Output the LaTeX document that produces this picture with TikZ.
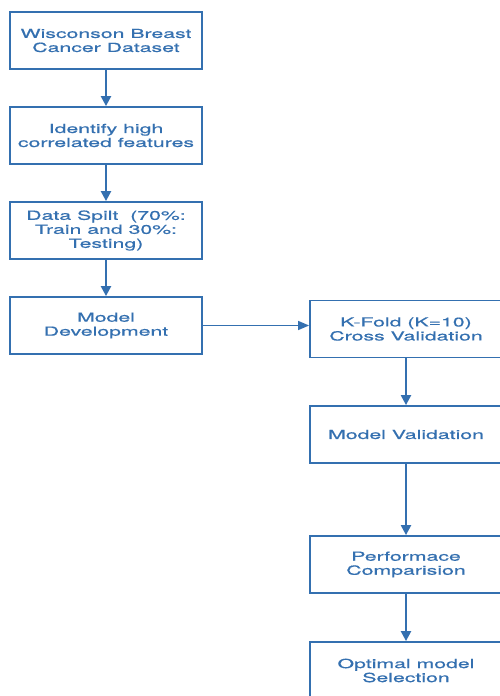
\documentclass[tikz,border=0pt]{standalone}
\usepackage{fontspec}
\setmainfont[FakeStretch=1.7,FakeBold=0.6]{TeX Gyre Heros}
\usetikzlibrary{arrows.meta}
\definecolor{fblue}{RGB}{52,112,176}
\tikzset{
  box/.style={draw=fblue, line width=1.8pt, minimum width=192pt, minimum height=57pt,
    align=center, text=fblue, font=\fontsize{12.5}{14}\selectfont, inner sep=0pt},
  flow/.style={draw=fblue, line width=2.2pt, -{Triangle[width=10pt,length=10pt]}},
  flowthin/.style={draw=fblue, line width=1.3pt, -{Triangle[width=9pt,length=11pt]}}
}
\begin{document}
\begin{tikzpicture}[x=1pt,y=-1pt]
\useasboundingbox[fill=white] (0,0) rectangle (499,696);
\node[box] (b1) at (106,40.5) {Wisconson Breast\\Cancer Dataset};
\node[box] (b2) at (106,135.5) {Identify high\\correlated features};
\node[box] (b3) at (106,230.5) {Data Spilt\ \ (70\%:\\Train and 30\%:\\Testing)};
\node[box] (b4) at (106,325.5) {Model\\Development};
\node[box] (b5) at (406,329) {K-Fold (K=10)\\Cross Validation};
\node[box] (b6) at (406,434.5) {Model Validation};
\node[box] (b7) at (406,564.5) {Performace\\Comparision};
\node[box] (b8) at (406,670.5) {Optimal model\\Selection};
\draw[flow] (b1) -- (b2);
\draw[flow] (b2) -- (b3);
\draw[flow] (b3) -- (b4);
\draw[flowthin] (b4.east) -- (b4.east -| b5.west);
\draw[flow] (b5) -- (b6);
\draw[flow] (b6) -- (b7);
\draw[flow] (b7) -- (b8);
\end{tikzpicture}
\end{document}
